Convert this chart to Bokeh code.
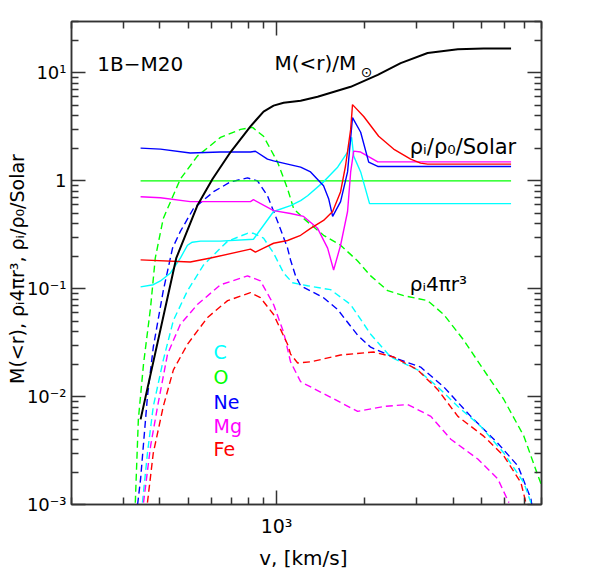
import math
from bokeh.plotting import figure
from bokeh.models import LogAxis, FixedTicker, Label, Range1d
from bokeh.embed import file_html
from bokeh.resources import INLINE

# ---------------- data ----------------
# enclosed mass M(<r)/Msun vs velocity [km/s]
M_v   = [344, 455, 537, 605, 697, 815, 903, 977, 1057, 1208, 1380, 1789, 2213, 2649, 3273, 4150, 5080, 6300]
M_val = [0.00615, 0.192, 0.59, 1.04, 1.85, 3.2, 4.39, 4.98, 5.3, 5.53, 6.02, 7.44, 9.59, 12.35, 15.3, 16.6, 16.9, 16.9]

# rho_i/rho_0/Solar (solid lines)
O_sol_v  = [344, 6300]
O_sol    = [1.0, 1.0]
Ne_sol_v = [344, 402, 508, 644, 815, 847, 931, 977, 1090, 1208, 1306, 1446, 1505, 1553, 1653, 1746, 1815, 1935, 2061, 2213, 6300]
Ne_sol   = [2.01, 1.97, 1.81, 1.85, 1.85, 1.88, 1.59, 1.53, 1.43, 1.34, 1.21, 0.90, 0.684, 0.468, 0.642, 1.21, 3.86, 2.82, 1.49, 1.36, 1.36]
Fe_sol_v = [344, 508, 596, 815, 847, 903, 977, 1090, 1208, 1306, 1446, 1553, 1653, 1718, 1789, 1815, 1982, 2229, 2506, 2864, 3097, 3273, 6300]
Fe_sol   = [0.185, 0.177, 0.1925, 0.233, 0.2185, 0.238, 0.264, 0.28, 0.313, 0.363, 0.43, 0.52, 0.793, 1.373, 3.0, 5.09, 3.95, 2.59, 1.97, 1.59, 1.46, 1.43, 1.43]
Mg_sol_v = [344, 402, 508, 644, 815, 834, 977, 1116, 1236, 1380, 1493, 1565, 1653, 1746, 1789, 1832, 1935, 2213, 6300]
Mg_sol   = [0.713, 0.698, 0.642, 0.642, 0.642, 0.67, 0.53, 0.498, 0.468, 0.363, 0.238, 0.149, 0.253, 0.52, 1.21, 1.885, 1.85, 1.50, 1.50]
C_sol_v  = [344, 380, 402, 435, 470, 497, 516, 551, 644, 834, 977, 1116, 1208, 1276, 1446, 1615, 1746, 1803, 1832, 1935, 2075, 6300]
C_sol    = [0.104, 0.109, 0.118, 0.140, 0.1925, 0.253, 0.27, 0.276, 0.276, 0.2875, 0.52, 0.59, 0.655, 0.728, 0.979, 1.34, 1.85, 2.53, 1.695, 1.21, 0.615, 0.615]

# rho_i 4 pi r^3 (dashed lines)
O_d_v  = [330, 338, 352, 372, 386, 411, 470, 537, 644, 754, 828, 903, 1008, 1090, 1143, 1236, 1446, 1653, 1890, 2093, 2393, 2712, 3273, 3715, 4348, 5080, 5954, 6966, 7780, 8020]
O_d    = [0.00104, 0.00615, 0.0201, 0.067, 0.1925, 0.448, 1.04, 1.695, 2.53, 3.0, 3.13, 2.59, 1.49, 0.845, 0.554, 0.448, 0.313, 0.253, 0.1807, 0.1316, 0.0959, 0.0863, 0.0776, 0.0577, 0.0333, 0.0177, 0.0094, 0.0043, 0.00185, 0.00149]
Ne_d_v = [336, 344, 363, 380, 411, 442, 470, 521, 610, 697, 796, 861, 931, 1008, 1090, 1116, 1161, 1208, 1446, 1615, 1890, 2093, 2588, 3097, 3715, 4592, 5676, 6645, 7362, 7413]
Ne_d   = [0.001, 0.00173, 0.01, 0.0287, 0.0959, 0.238, 0.340, 0.554, 0.793, 0.979, 1.065, 1.0, 0.728, 0.421, 0.238, 0.1846, 0.1316, 0.1065, 0.0826, 0.0642, 0.0371, 0.0287, 0.0223, 0.0188, 0.0123, 0.00656, 0.0037, 0.00228, 0.00113, 0.001]
C_d_v  = [349, 363, 380, 411, 445, 497, 564, 644, 681, 796, 834, 903, 977, 1057, 1134, 1276, 1528, 1789, 2093, 2448, 3027, 3544, 4150, 4966, 5954, 6966, 7362]
C_d    = [0.00104, 0.003, 0.0081, 0.0218, 0.0509, 0.0959, 0.166, 0.238, 0.2757, 0.3265, 0.3265, 0.294, 0.214, 0.140, 0.1135, 0.1065, 0.098, 0.0713, 0.0379, 0.0233, 0.0177, 0.0123, 0.0081, 0.0053, 0.0030, 0.00159, 0.00104]
Mg_d_v = [352, 372, 393, 425, 470, 537, 644, 796, 881, 977, 1057, 1116, 1208, 1446, 1890, 2317, 2800, 3357, 3926, 4852, 5676, 6194]
Mg_d   = [0.00104, 0.00348, 0.0081, 0.0248, 0.0468, 0.0713, 0.1088, 0.1316, 0.1184, 0.0713, 0.0395, 0.021, 0.01374, 0.01066, 0.00729, 0.0081, 0.00845, 0.00656, 0.00403, 0.00264, 0.00173, 0.00104]
Fe_d_v = [363, 380, 411, 445, 497, 582, 681, 815, 881, 977, 1090, 1116, 1180, 1306, 1653, 2142, 2506, 3027, 3544, 4150, 5080, 5954, 6808, 7077]
Fe_d   = [0.00104, 0.003, 0.0081, 0.0177, 0.0306, 0.0542, 0.0776, 0.0919, 0.0826, 0.0577, 0.0306, 0.0248, 0.0205, 0.021, 0.0243, 0.0259, 0.0233, 0.0177, 0.0116, 0.00656, 0.0043, 0.00282, 0.00159, 0.00104]

species = ["C", "O", "Ne", "Mg", "Fe"]
colors  = {"C": "#00FFFF", "O": "#00FF00", "Ne": "#0000FF", "Mg": "#FF00FF", "Fe": "#FF0000"}

y_ticks = [0.001, 0.01, 0.1, 1, 10]
y_tick_labels = ["10\u207b\u00b3", "10\u207b\u00b2", "10\u207b\u00b9", "1", "10\u00b9"]
x_ticks = [1000, 10000]
x_tick_labels = ["10\u00b3", "10\u2074"]

FONT = "DejaVu Sans"
AX = "#333333"

p = figure(width=590, height=572, x_axis_type="log", y_axis_type="log",
           x_range=Range1d(200, 8000), y_range=Range1d(1e-3, 30),
           output_backend="svg", toolbar_location=None,
           min_border_left=71, min_border_right=49, min_border_top=21, min_border_bottom=64)
p.grid.visible = False
p.outline_line_color = AX
p.outline_line_width = 1.5
p.background_fill_color = "white"
p.border_fill_color = "white"

x_minor = [m * 10 ** e for e in (2, 3) for m in range(2, 10)]
y_minor = [m * 10.0 ** e for e in (-3, -2, -1, 0, 1) for m in range(2, 10)]

def style(ax, ticks, minor, labels, show):
    ax.ticker = FixedTicker(ticks=ticks, minor_ticks=minor)
    ax.major_tick_in = 14
    ax.major_tick_out = 0
    ax.minor_tick_in = 7
    ax.minor_tick_out = 0
    ax.axis_line_color = AX
    ax.axis_line_width = 1.5
    ax.major_tick_line_color = AX
    ax.major_tick_line_width = 1.5
    ax.minor_tick_line_color = AX
    ax.minor_tick_line_width = 1.5
    ax.major_label_overrides = {t: l for t, l in zip(ticks, labels)}
    if show:
        ax.major_label_text_font = FONT
        ax.major_label_text_font_size = "19px"
        ax.major_label_text_color = "black"
        ax.axis_label_text_font = FONT
        ax.axis_label_text_font_style = "normal"
        ax.axis_label_text_color = "black"
    else:
        ax.major_label_text_font_size = "0px"
        ax.major_label_standoff = 0

xa = p.xaxis[0]
style(xa, x_ticks, x_minor, x_tick_labels, True)
xa.major_label_standoff = 10
xa.axis_label = "v,  [km/s]"
xa.axis_label_text_font_size = "20px"
xa.axis_label_standoff = 6

ya = p.yaxis[0]
style(ya, y_ticks, y_minor, y_tick_labels, True)
ya.major_label_text_font_size = "18px"
ya.major_label_standoff = 5
ya.major_label_orientation = "horizontal"
ya.axis_label = "M(<r),  \u03c1\u1d624\u03c0r\u00b3,  \u03c1\u1d62/\u03c1\u2080/Solar"
ya.axis_label_text_font_size = "19px"
ya.axis_label_standoff = -4

top = LogAxis()
style(top, x_ticks, x_minor, ["", ""], False)
p.add_layout(top, "above")
right = LogAxis()
style(right, y_ticks, y_minor, [""] * 5, False)
p.add_layout(right, "right")

# dashed: rho_i 4 pi r^3
dashed = {"O": (O_d_v, O_d), "Ne": (Ne_d_v, Ne_d), "C": (C_d_v, C_d), "Mg": (Mg_d_v, Mg_d), "Fe": (Fe_d_v, Fe_d)}
for s in ["O", "Ne", "C", "Mg", "Fe"]:
    xv, yv = dashed[s]
    p.line(xv, yv, line_color=colors[s], line_width=1.4, line_dash="7 4")

# solid: rho_i/rho_0/Solar
solid = {"O": (O_sol_v, O_sol), "C": (C_sol_v, C_sol), "Mg": (Mg_sol_v, Mg_sol), "Ne": (Ne_sol_v, Ne_sol), "Fe": (Fe_sol_v, Fe_sol)}
for s in ["O", "C", "Mg", "Ne", "Fe"]:
    xv, yv = solid[s]
    p.line(xv, yv, line_color=colors[s], line_width=1.4)

p.line(M_v, M_val, line_color="black", line_width=2)

def lab(x, y, text, color="black", size="20px", align="left", angle=0.0, baseline="middle"):
    p.add_layout(Label(x=x, y=y, text=text, text_color=color, text_font=FONT,
                       text_font_size=size, text_align=align, text_baseline=baseline,
                       angle=angle))

lab(245, 12.2, "1B\u2212M20")
lab(984, 12.35, "M(<r)/M")
lab(1935, 10.2, "\u2299", size="14px")
lab(2844, 2.05, "\u03c1\u1d62/\u03c1\u2080/Solar", size="21px")
lab(2844, 0.111, "\u03c1\u1d624\u03c0r\u00b3")

leg_y = [0.0259, 0.0152, 0.0090, 0.0053, 0.00327]
for s, yy in zip(species, leg_y):
    lab(610, yy, s, color=colors[s], size="19px")

open("out.html", "w").write(file_html(p, INLINE))
